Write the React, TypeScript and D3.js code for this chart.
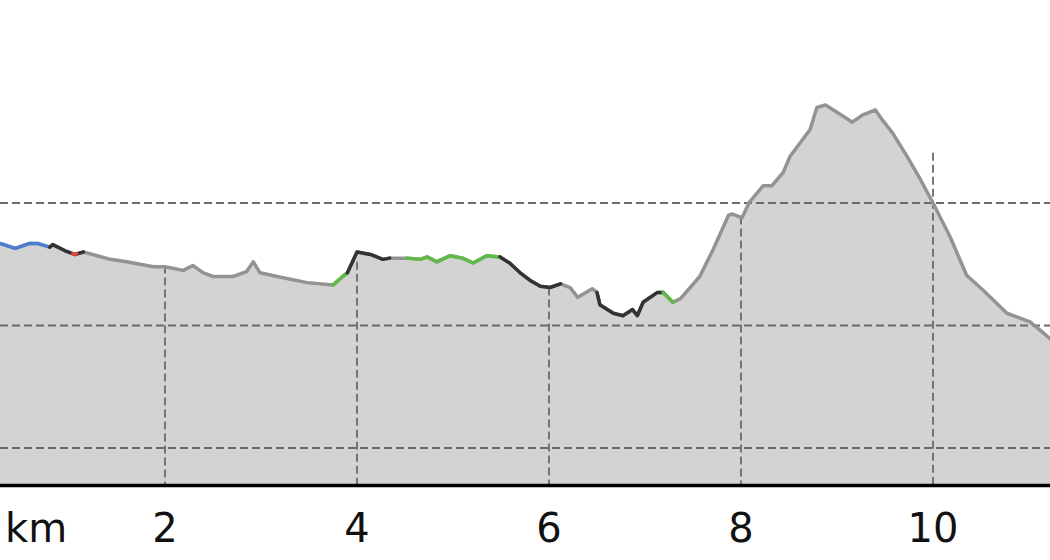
import React, { useRef, useEffect } from "react";
import * as d3 from "d3";

// distance along the track (km) and elevation (m)
const dist = [
  0.28, 0.44, 0.59, 0.67, 0.8, 0.83, 0.96, 1.06, 1.15, 1.43, 1.6, 1.88, 2.0,
  2.19, 2.29, 2.4, 2.5, 2.71, 2.85, 2.92, 2.99, 3.23, 3.48, 3.75, 3.85, 3.9,
  4.0, 4.14, 4.27, 4.34, 4.52, 4.66, 4.73, 4.83, 4.97, 5.1, 5.21, 5.35, 5.49,
  5.59, 5.7, 5.8, 5.91, 6.01, 6.12, 6.22, 6.3, 6.45, 6.5, 6.53, 6.67, 6.77,
  6.87, 6.92, 6.98, 7.13, 7.19, 7.29, 7.37, 7.57, 7.71, 7.87, 7.91, 8.01, 8.09,
  8.23, 8.32, 8.44, 8.51, 8.72, 8.79, 8.88, 9.0, 9.16, 9.27, 9.4, 9.47, 9.58,
  9.73, 9.87, 10.0, 10.18, 10.35, 10.52, 10.77, 11.01, 11.15, 11.25,
];
const elev = [
  367, 363, 367, 367, 364, 366, 361, 358, 360, 354, 352, 348, 348,
  345, 349, 343, 340, 340, 344, 352, 343, 339, 335, 333, 340, 343,
  360, 358, 354, 355, 355, 354, 356, 352, 357, 355, 351, 357, 356,
  351, 343, 337, 332, 331, 334, 331, 323, 330, 327, 317, 310, 308,
  313, 308, 319, 327, 327, 319, 322, 340, 362, 390, 391, 388, 401,
  414, 414, 425, 438, 460, 478, 480, 474, 466, 472, 476, 468, 457,
  438, 419, 400, 372, 341, 329, 310, 303, 294, 287,
];

// coloured stretches of the track
const segStart = [0.28, 0.8, 1.04, 3.75, 3.9, 4.52, 5.49, 6.5, 7.19];
const segEnd = [0.8, 1.15, 1.08, 3.9, 4.34, 5.49, 6.12, 7.19, 7.3];
const segKind = ["blue", "dark", "red", "green", "dark", "green", "dark", "dark", "green"];

const xTicks = [2, 4, 6, 8, 10];
const gridTop = [349, 352, 331, 389, 441];
const yGrid = [200, 300, 400];

const colors: Record<string, string> = {
  blue: "#4a7dd1",
  dark: "#333333",
  red: "#e8413a",
  green: "#5fba47",
};

const App = () => {
  const ref = useRef<SVGSVGElement>(null);

  useEffect(() => {
    const svg = d3.select(ref.current);
    svg.selectAll("*").remove();

    const width = 1050;
    const height = 560;
    const base = 484;

    const x = d3.scaleLinear().domain([0, 12]).range([-27, 1125]);
    const y = d3.scaleLinear().domain([100, 400]).range([570.5, 203]);

    const pts: [number, number][] = dist.map((d, i) => [d, elev[i]]);
    const bis = d3.bisector((p: [number, number]) => p[0]).left;
    const elevAt = (km: number) => {
      const i = Math.max(1, Math.min(pts.length - 1, bis(pts, km)));
      const a = pts[i - 1];
      const b = pts[i];
      return a[1] + ((km - a[0]) / (b[0] - a[0])) * (b[1] - a[1]);
    };

    svg.attr("width", width).attr("height", height);

    const area = d3.area<[number, number]>()
      .x((d) => x(d[0]))
      .y0(base)
      .y1((d) => y(d[1]));

    const line = d3.line<[number, number]>()
      .x((d) => x(d[0]))
      .y((d) => y(d[1]));

    svg.append("path")
      .attr("d", area(pts))
      .attr("fill", "#d3d3d3");

    // grid
    svg.selectAll(".hgrid")
      .data(yGrid)
      .enter()
      .append("line")
      .attr("x1", 0)
      .attr("x2", width)
      .attr("y1", (d) => y(d))
      .attr("y2", (d) => y(d))
      .attr("stroke", "#6a6a6a")
      .attr("stroke-width", 1.8)
      .attr("stroke-dasharray", "8,4");

    svg.selectAll(".vgrid")
      .data(xTicks)
      .enter()
      .append("line")
      .attr("x1", (d) => x(d))
      .attr("x2", (d) => x(d))
      .attr("y1", (d, i) => y(gridTop[i]))
      .attr("y2", base)
      .attr("stroke", "#6a6a6a")
      .attr("stroke-width", 1.8)
      .attr("stroke-dasharray", "8,4");

    // profile
    svg.append("path")
      .attr("d", line(pts))
      .attr("fill", "none")
      .attr("stroke", "#939393")
      .attr("stroke-width", 3.5)
      .attr("stroke-linejoin", "round");

    segStart.forEach((s, i) => {
      const e = segEnd[i];
      const seg: [number, number][] = [[s, elevAt(s)]];
      pts.forEach((p) => {
        if (p[0] > s && p[0] < e) seg.push(p);
      });
      seg.push([e, elevAt(e)]);
      svg.append("path")
        .attr("d", line(seg))
        .attr("fill", "none")
        .attr("stroke", colors[segKind[i]])
        .attr("stroke-width", 3.5)
        .attr("stroke-linejoin", "round")
        .attr("stroke-linecap", "round");
    });

    // axis
    svg.append("line")
      .attr("x1", 0)
      .attr("x2", width)
      .attr("y1", 485.5)
      .attr("y2", 485.5)
      .attr("stroke", "#000")
      .attr("stroke-width", 3.5);

    svg.selectAll(".tick")
      .data(xTicks)
      .enter()
      .append("text")
      .attr("x", (d) => x(d))
      .attr("y", 542)
      .attr("text-anchor", "middle")
      .attr("font-family", "DejaVu Sans")
      .attr("font-size", "40px")
      .attr("fill", "#111")
      .text((d) => d);

    svg.append("text")
      .attr("x", 5)
      .attr("y", 542)
      .attr("font-family", "DejaVu Sans")
      .attr("font-size", "40px")
      .attr("fill", "#111")
      .text("km");
  }, []);

  return (
    <div style={{ position: "absolute", left: 0, top: 0 }}>
      <svg ref={ref} style={{ display: "block" }}></svg>
    </div>
  );
};

export default App;
